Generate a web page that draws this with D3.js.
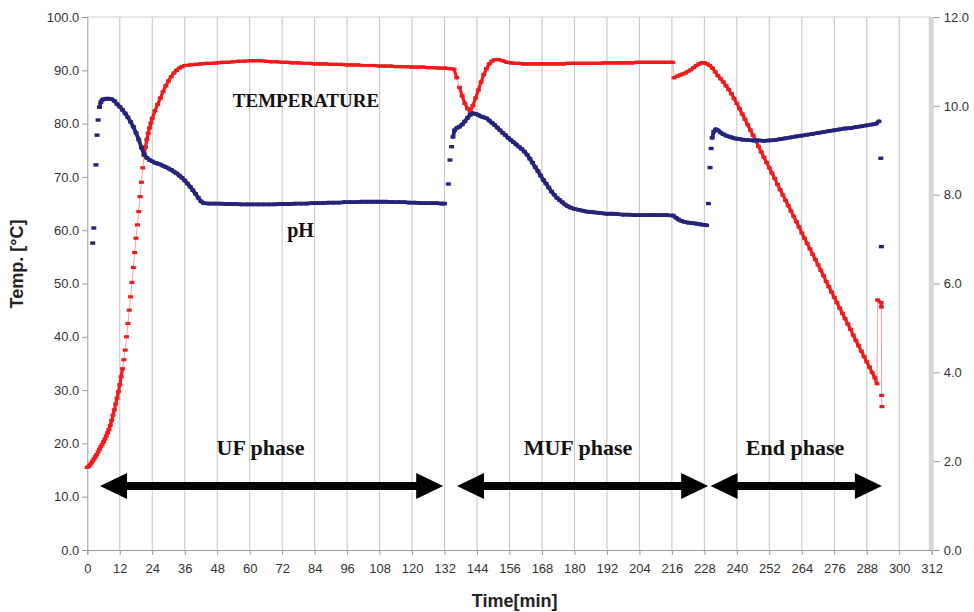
<!DOCTYPE html>
<html>
<head>
<meta charset="utf-8">
<script src="https://cdn.jsdelivr.net/npm/d3@7/dist/d3.min.js"></script>
<style>
  html, body { margin: 0; padding: 0; background: #fff; }
  svg { display: block; }
</style>
</head>
<body>
<svg id="chart" width="974" height="612"></svg>
<script>
// Temperature readings [time (min), °C]
const temperature = [
  [0,15.5],[0.5,15.7],[1,16.0],[1.5,16.3],[2,16.7],[2.5,17.1],[3,17.5],[3.5,17.9],[4,18.4],[4.5,18.9],
  [5,19.4],[5.5,19.8],[6,20.3],[6.5,20.8],[7,21.4],[7.5,22.0],[8,22.6],[8.5,23.4],[9,24.3],[9.5,25.3],
  [10,26.3],[10.5,27.4],[11,28.5],[11.5,29.7],[12,31.0],[12.5,32.5],[13,34.0],[13.5,35.7],[14,37.5],
  [14.5,40.0],[15,42.5],[15.5,45.0],[16,47.5],[16.5,50.2],[17,53.0],[17.5,55.8],[18,58.5],[18.5,61.0],
  [19,63.5],[19.5,66.3],[20,69.0],[20.5,71.7],[21,74.0],[21.5,75.6],[22,77.0],[22.5,78.2],[23,79.2],
  [23.5,80.1],[24,81.0],[25,82.4],[26,83.6],[27,84.8],[28,86.0],[29,87.1],[30,88.0],[31,88.8],[32,89.5],
  [33,90.0],[34,90.4],[35,90.7],[36,90.9],[38,91.0],[40,91.1],[42,91.2],[44,91.3],[46,91.3],[48,91.4],
  [50,91.5],[52,91.5],[54,91.6],[56,91.7],[58,91.7],[60,91.8],[62,91.8],[64,91.8],[66,91.7],[68,91.6],
  [70,91.6],[72,91.5],[74,91.5],[76,91.4],[78,91.4],[80,91.3],[82,91.3],[84,91.2],[86,91.2],[88,91.2],
  [90,91.1],[92,91.1],[94,91.1],[96,91.0],[98,91.0],[100,91.0],[102,90.9],[104,90.9],[106,90.9],[108,90.8],
  [110,90.8],[112,90.8],[114,90.7],[116,90.7],[118,90.7],[120,90.6],[122,90.6],[124,90.6],[126,90.5],
  [128,90.5],[130,90.4],[132,90.4],[134,90.3],[135.5,90.2],
  [136.5,88.6],[137.5,86.8],[138.5,85.2],[139.5,83.8],[140.5,82.8],[141.5,82.3],[142.5,83.4],[143.5,84.8],
  [144.5,86.3],[145.5,87.8],[146.5,89.2],[147.5,90.3],[148.5,91.2],[149.5,91.7],[150.5,92.0],[152,92.0],
  [153.5,91.8],[155,91.5],[156.5,91.4],[158,91.3],[159.5,91.3],[161,91.2],[162.5,91.2],[164,91.2],
  [165.5,91.2],[167,91.2],[168.5,91.2],[170,91.2],[171.5,91.2],[173,91.2],[174.5,91.2],[176,91.2],
  [177.5,91.3],[179,91.3],[180.5,91.3],[182,91.3],[183.5,91.3],[185,91.3],[186.5,91.3],[188,91.3],
  [189.5,91.3],[191,91.4],[192.5,91.4],[194,91.4],[195.5,91.4],[197,91.4],[198.5,91.4],[200,91.4],
  [201.5,91.4],[203,91.5],[204.5,91.5],[206,91.5],[207.5,91.5],[209,91.5],[210.5,91.5],[212,91.5],
  [213.5,91.5],[215,91.5],[216.3,91.5],[216.8,88.6],[218,88.9],
  [219,89.1],[220,89.3],[221,89.5],[222,89.8],[223,90.1],[224,90.5],[225,90.9],[226,91.2],[227,91.4],
  [228,91.4],[229,91.2],[230,90.9],[231,90.4],[232,89.7],[233,89.0],[234,88.4],[235,87.8],[236,87.1],
  [237,86.4],[238,85.6],[239,84.7],[240,83.8],[241,82.8],[242,81.8],[243,80.8],[244,79.8],[245,78.8],
  [246,77.8],[247,76.8],[248,75.7],[249,74.7],[250,73.7],[251,72.7],[252,71.7],[253,70.7],[254,69.7],
  [255,68.6],[256,67.6],[257,66.6],[258,65.6],[259,64.6],[260,63.6],[261,62.6],[262,61.6],[263,60.6],
  [264,59.5],[265,58.5],[266,57.5],[267,56.5],[268,55.5],[269,54.5],[270,53.5],[271,52.5],[272,51.5],
  [273,50.4],[274,49.4],[275,48.4],[276,47.4],[277,46.4],[278,45.4],[279,44.4],[280,43.4],[281,42.4],
  [282,41.4],[283,40.3],[284,39.3],[285,38.3],[286,37.3],[287,36.3],[288,35.3],[289,34.3],[290,33.3],
  [291,32.3],[291.8,31.2],[292,46.9],[293.3,46.4],[293.4,45.6],[293.5,29.0],[293.6,26.9]
];

// pH readings [time (min), pH]
const ph = [
  [2.0,6.91],[2.4,7.25],[3.2,8.67],[3.6,9.34],[4.0,9.68],[4.5,9.97],[5.0,10.08],[5.5,10.13],[6,10.15],
  [7,10.16],[8,10.16],[9,10.15],[10,10.11],[11,10.04],[12,9.98],[13,9.91],[14,9.83],[15,9.74],[16,9.64],
  [17,9.53],[18,9.39],[19,9.24],[20,9.06],[21,8.91],[22,8.83],[23,8.78],[24,8.75],[25,8.72],[26,8.70],
  [27,8.68],[28,8.65],[29,8.62],[30,8.59],[31,8.56],[32,8.52],[33,8.48],[34,8.43],[35,8.38],[36,8.32],
  [37,8.25],[38,8.18],[39,8.10],[40,8.02],[41,7.93],[42,7.85],[43,7.81],[45,7.80],[47,7.80],[49,7.80],
  [51,7.79],[53,7.79],[55,7.79],[57,7.78],[59,7.78],[61,7.78],[63,7.78],[65,7.78],[67,7.78],[69,7.78],
  [71,7.79],[73,7.79],[75,7.79],[77,7.80],[79,7.80],[81,7.80],[83,7.81],[85,7.81],[87,7.81],[89,7.82],
  [91,7.82],[93,7.82],[95,7.83],[97,7.83],[99,7.83],[101,7.84],[103,7.84],[105,7.84],[107,7.84],
  [109,7.84],[111,7.84],[113,7.83],[115,7.83],[117,7.83],[119,7.82],[121,7.82],[123,7.81],[125,7.81],
  [127,7.81],[129,7.81],[131,7.80],[132,7.80],
  [133.4,8.24],[134.0,8.78],[134.6,9.08],[135.1,9.30],[135.7,9.45],[136.5,9.50],[137.5,9.53],[138.5,9.58],
  [139.5,9.65],[140.5,9.73],[141.5,9.80],[142.5,9.83],[143.5,9.82],[144.5,9.79],[145.5,9.76],[146.5,9.74],
  [147.5,9.72],[148.5,9.67],[149.5,9.62],[150.5,9.57],[151.5,9.51],[152.5,9.45],[153.5,9.39],[154.5,9.34],
  [155.5,9.28],[156.5,9.23],[157.5,9.18],[158.5,9.13],[159.5,9.08],[160.5,9.03],[161.5,8.97],[162.5,8.90],
  [163.5,8.81],[164.5,8.72],[165.5,8.62],[166.5,8.53],[167.5,8.43],[168.5,8.33],[169.5,8.25],[170.5,8.16],
  [171.5,8.07],[172.5,8.00],[173.5,7.93],[174.5,7.88],[175.5,7.83],[176.5,7.78],[177.5,7.74],[178.5,7.71],
  [180,7.68],[181.5,7.66],[183,7.64],[184.5,7.62],[186,7.61],[187.5,7.60],[189,7.59],[190.5,7.58],
  [192,7.57],[194,7.57],[196,7.56],[198,7.55],[200,7.55],[202,7.54],[204,7.54],[206,7.54],[208,7.54],
  [210,7.54],[212,7.54],[214,7.54],[216.5,7.53],[217.5,7.48],[218.5,7.44],
  [219.5,7.41],[220.5,7.39],[222,7.37],[223.5,7.36],[225,7.35],[226.5,7.33],[228,7.32],[228.8,7.31],
  [229.5,7.80],[230.1,8.61],[230.5,9.04],[230.9,9.28],[231.5,9.42],[232.2,9.47],[233,9.45],[234,9.40],
  [235,9.36],[236,9.33],[237,9.31],[238,9.29],[239,9.27],[240,9.26],[241,9.25],[242,9.24],[244,9.23],
  [246,9.22],[248,9.22],[250,9.21],[252,9.22],[254,9.23],[256,9.25],[258,9.27],[260,9.29],[262,9.31],
  [264,9.33],[266,9.35],[268,9.37],[270,9.39],[272,9.41],[274,9.43],[276,9.45],[278,9.47],[280,9.49],
  [282,9.50],[284,9.52],[286,9.54],[288,9.56],[290,9.58],[291.5,9.60],[292.5,9.65],
  [293.2,8.82],[293.4,6.83]
];

// Process phases: [label, start (min), end (min), label centre (min)]
const phases = [
  ["UF phase", 4.7, 131.5, 64],
  ["MUF phase", 136.6, 229.4, 181.3],
  ["End phase", 230.3, 293.6, 261.5]
];

// Axis ticks
const timeTicks = d3.range(0, 313, 12);
const tempTicks = d3.range(0, 101, 10);
const phTicks = d3.range(0, 13, 2);

const svg = d3.select("#chart");
const x = d3.scaleLinear().domain([0, 312]).range([87.3, 931.7]);
const yT = d3.scaleLinear().domain([0, 100]).range([550, 17]);
const yP = d3.scaleLinear().domain([0, 12]).range([550, 17]);

const axisFont = "'Liberation Sans', Arial, sans-serif";
const serif = "'Liberation Serif', 'Times New Roman', serif";

// vertical grid
svg.append("g").selectAll("line")
  .data(timeTicks.filter(t => t > 0 && t < 312))
  .join("line")
  .attr("x1", d => x(d)).attr("x2", d => x(d))
  .attr("y1", yT(100)).attr("y2", yT(0))
  .attr("stroke", "#c4c4c4").attr("stroke-width", 1);

// top border
svg.append("line")
  .attr("x1", x(0)).attr("x2", x(312)).attr("y1", yT(100)).attr("y2", yT(100))
  .attr("stroke", "#d0d0d0");

// right axis bar
svg.append("rect")
  .attr("x", x(312) - 3).attr("y", yT(100)).attr("width", 5).attr("height", yT(0) - yT(100))
  .attr("fill", "#d6d6d6");

// bottom axis
const gx = svg.append("g").attr("transform", `translate(0,${yT(0)})`)
  .call(d3.axisBottom(x).tickValues(timeTicks).tickSize(5).tickPadding(9).tickFormat(d3.format("d")));
gx.select(".domain").attr("stroke", "#9a9a9a");
gx.selectAll(".tick line").attr("stroke", "#9a9a9a");
gx.selectAll("text").attr("font-family", axisFont).attr("font-size", 13).attr("fill", "#333");

// left axis
const gl = svg.append("g").attr("transform", `translate(${x(0)},0)`)
  .call(d3.axisLeft(yT).tickValues(tempTicks).tickSize(5).tickPadding(3).tickFormat(d3.format(".1f")));
gl.select(".domain").attr("stroke", "#9a9a9a");
gl.selectAll(".tick line").attr("stroke", "#9a9a9a");
gl.selectAll("text").attr("font-family", axisFont).attr("font-size", 13).attr("fill", "#333");

// right axis
const gr = svg.append("g").attr("transform", `translate(${x(312) + 2},0)`)
  .call(d3.axisRight(yP).tickValues(phTicks).tickSize(6).tickPadding(4).tickFormat(d3.format(".1f")));
gr.select(".domain").remove();
gr.selectAll(".tick line").attr("stroke", "#9a9a9a");
gr.selectAll("text").attr("font-family", axisFont).attr("font-size", 13).attr("fill", "#333");

// axis titles
svg.append("text")
  .attr("transform", `translate(23,${264}) rotate(-90)`)
  .attr("text-anchor", "middle")
  .attr("font-family", axisFont).attr("font-size", 18).attr("font-weight", "bold").attr("fill", "#222")
  .text("Temp. [°C]");
svg.append("text")
  .attr("x", 514.7).attr("y", 607)
  .attr("text-anchor", "middle")
  .attr("font-family", axisFont).attr("font-size", 18).attr("font-weight", "bold").attr("fill", "#222")
  .text("Time[min]");

// draws one series: thin trace, merged runs of neighbouring points, dash markers
function drawSeries(data, yScale, color, traceColor, thick, mw, mh) {
  const g = svg.append("g");
  const pts = data.map(d => [x(d[0]), yScale(d[1])]);
  if (traceColor) {
    g.append("path")
      .attr("d", d3.line()(pts))
      .attr("fill", "none").attr("stroke", traceColor).attr("stroke-width", 1);
  }
  const segs = [];
  for (let i = 1; i < pts.length; i++) {
    const dx = pts[i][0] - pts[i - 1][0], dy = pts[i][1] - pts[i - 1][1];
    if (Math.hypot(dx, dy) < 9) segs.push([pts[i - 1], pts[i]]);
  }
  g.selectAll("line.seg").data(segs).join("line")
    .attr("class", "seg")
    .attr("x1", d => d[0][0]).attr("y1", d => d[0][1])
    .attr("x2", d => d[1][0]).attr("y2", d => d[1][1])
    .attr("stroke", color).attr("stroke-width", thick).attr("stroke-linecap", "round");
  g.selectAll("rect").data(pts).join("rect")
    .attr("x", d => d[0] - mw / 2).attr("y", d => d[1] - mh / 2)
    .attr("width", mw).attr("height", mh)
    .attr("fill", color);
}

drawSeries(temperature, yT, "#f21b1b", "#ff9c9c", 3.2, 5, 3.2);
drawSeries(ph, yP, "#25247a", null, 3.8, 5, 3.4);

// phase arrows
const head = 27, hh = 13, sh = 4;
const ay = yT(12);
svg.append("g").selectAll("path").data(phases).join("path")
  .attr("d", d => {
    const a = x(d[1]), b = x(d[2]);
    return `M${a},${ay} L${a + head},${ay - hh} L${a + head},${ay - sh} L${b - head},${ay - sh} L${b - head},${ay - hh} L${b},${ay} L${b - head},${ay + hh} L${b - head},${ay + sh} L${a + head},${ay + sh} L${a + head},${ay + hh} Z`;
  })
  .attr("fill", "#000");

svg.append("g").selectAll("text").data(phases).join("text")
  .attr("x", d => x(d[3])).attr("y", yT(17.8))
  .attr("text-anchor", "middle")
  .attr("font-family", serif).attr("font-size", 22).attr("font-weight", "bold").attr("fill", "#111")
  .text(d => d[0]);

// series labels
svg.append("text")
  .attr("x", x(80.8)).attr("y", yT(83.2))
  .attr("text-anchor", "middle")
  .attr("font-family", serif).attr("font-size", 19).attr("font-weight", "bold").attr("fill", "#111")
  .text("TEMPERATURE");
svg.append("text")
  .attr("x", x(78.8)).attr("y", yT(58.8))
  .attr("text-anchor", "middle")
  .attr("font-family", serif).attr("font-size", 20).attr("font-weight", "bold").attr("fill", "#111")
  .text("pH");
</script>
</body>
</html>
